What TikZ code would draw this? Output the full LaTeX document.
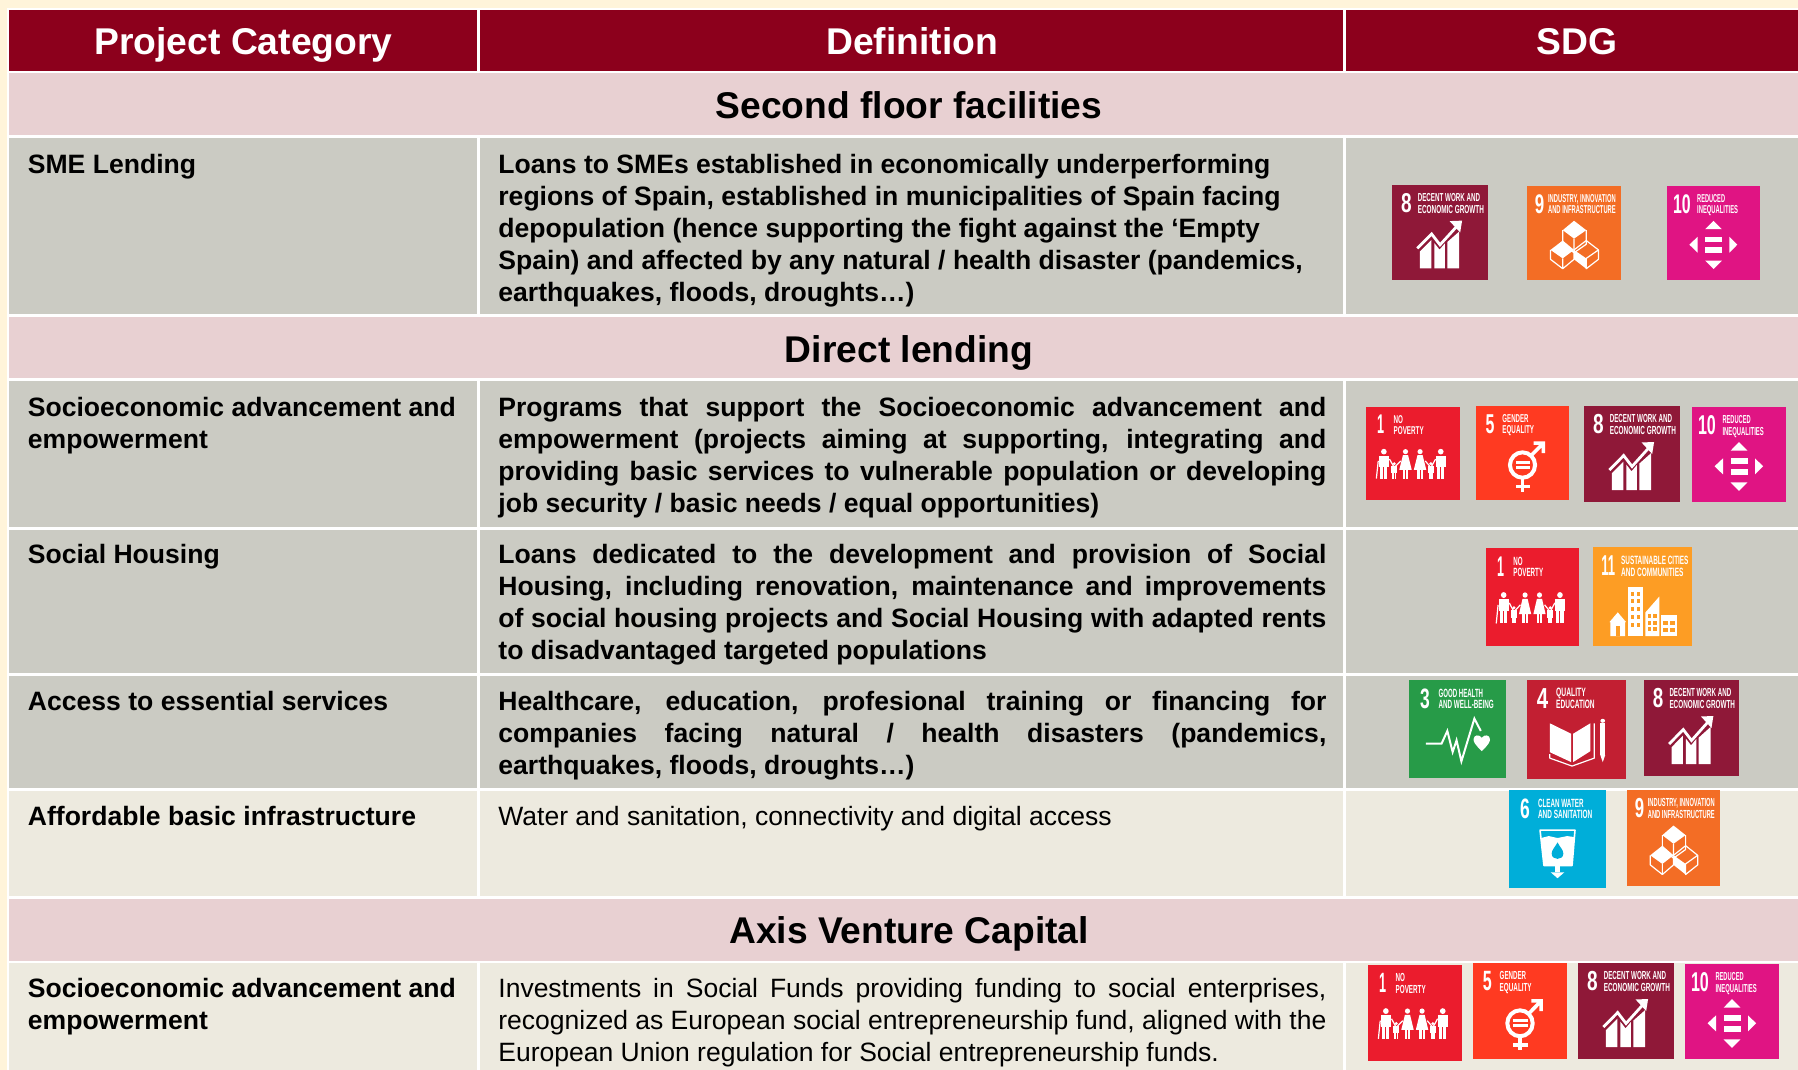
\documentclass[tikz,border=0pt]{standalone}
\usepackage{fontspec}
\usepackage{graphicx}
\setmainfont{Liberation Sans}
\setsansfont{Liberation Sans}
\definecolor{margincol}{HTML}{FFF4DA}
\definecolor{headcol}{HTML}{8C001C}
\definecolor{pinkcol}{HTML}{E8D0D2}
\definecolor{greycol}{HTML}{CBCBC3}
\definecolor{creamcol}{HTML}{EDEADF}
\definecolor{sdgA}{HTML}{EB1C2D}
\definecolor{sdgC}{HTML}{279B48}
\definecolor{sdgD}{HTML}{C21F32}
\definecolor{sdgE}{HTML}{FF3A21}
\definecolor{sdgF}{HTML}{00AED9}
\definecolor{sdgH}{HTML}{8F1838}
\definecolor{sdgI}{HTML}{F36D25}
\definecolor{sdgJ}{HTML}{E01483}
\definecolor{sdgK}{HTML}{FD9D24}
\newcounter{lb}
\newcommand\setspace{\spaceskip=.278em\relax}
\newcommand\jl[1]{\leavevmode\hbox to 414pt{\spaceskip=.278em plus 1fil minus .1em\relax #1}\\}
\tikzset{
  cellfill/.style={fill=#1,draw=none},
  hdtext/.style={inner sep=0,white,font=\fontsize{18.63}{20}\selectfont\bfseries,anchor=base},
  sectext/.style={inner sep=0,black,font=\fontsize{18.6}{20}\selectfont\bfseries,anchor=base},
  cattext/.style={inner sep=0,anchor=north west,align=left,text width=225pt,
     font=\fontsize{13.28}{16.05}\selectfont\bfseries,execute at begin node=\setspace\rule{0pt}{10pt}},
  defbold/.style={inner sep=0,anchor=north west,align=left,text width=414pt,
     font=\fontsize{13.28}{16.05}\selectfont\bfseries,execute at begin node=\setspace\rule{0pt}{10pt}},
  defreg/.style={inner sep=0,anchor=north west,align=left,text width=414pt,
     font=\fontsize{13.25}{16.05}\selectfont,execute at begin node=\setspace\rule{0pt}{10pt}},
  sdgtext/.style={inner sep=0,anchor=base west,white},
  gl/.style={draw=white,line width=1.4pt,line cap=butt,line join=miter},
  glt/.style={draw=white,line width=0.6pt,line join=round},
}
% icon-relative label: x, baseline y, width %, height %, text
\newcommand\sdglab[5]{%
  \pgfmathsetlengthmacro\sdglw{#3*\sdgiw}%
  \pgfmathsetlengthmacro\sdglh{#4*\sdgih}%
  \stepcounter{lb}%
  \node[sdgtext] (lb\arabic{lb}) at (#1,#2) {\resizebox{\sdglw}{\sdglh}{\bfseries #5}};}
\newcommand\sdgnum[3]{\sdglab{#1}{29}{#2}{20}{#3}}
\newcommand\sdgtwo[5]{\sdglab{#1}{17.5}{#2}{8.5}{#3}\sdglab{#1}{29.5}{#4}{8.5}{#5}}
% icon: x0,y0,x1,y1,glyph name
\newcommand\sdgicon[5]{%
  \pgfmathsetmacro\sdgiwn{(#3-#1)/200}%
  \pgfmathsetmacro\sdgihn{(#4-#2)/200}%
  \edef\sdgiw{\sdgiwn pt}\edef\sdgih{\sdgihn pt}%
  \begin{scope}[shift={(#1,#2)},x=\sdgiw,y=-\sdgih]
    \csname sdgg#5\endcsname
  \end{scope}}
\newcommand\sdgbox[1]{\fill[#1] (0,0) rectangle (100,100);}
% glyphs
\newcommand\growth{%
  \draw[gl] (26.4,66.7) -- (41.3,51.6) -- (50,63) -- (68,43);
  \fill[white] (60,38) -- (73,37.5) -- (71,50) -- cycle;
  \fill[white] (29,70) -- (41,58) -- (41,87.7) -- (29,87.7) -- cycle;
  \fill[white] (44,61) -- (49.5,68) -- (55,61.5) -- (55,87.7) -- (44,87.7) -- cycle;
  \fill[white] (57.6,60) -- (70,49) -- (70,87.7) -- (57.6,87.7) -- cycle;}
\newcommand\cubes{%
  \fill[white] (50,37) -- (63,47) -- (50,56) -- (38,47) -- cycle;
  \fill[white] (38,58) -- (50,68) -- (38,77) -- (25,68) -- cycle;
  \fill[white] (50,68) -- (63,77) -- (63,88) -- (50,78) -- cycle;
  \draw[glt] (38,47) -- (38,62) -- (50,71) -- (63,62) -- (63,47) (50,56) -- (50,71);
  \draw[glt] (25,68) -- (25,78) -- (38,88) -- (50,78) -- (50,68) (38,77) -- (38,88);
  \draw[glt] (50,68) -- (63,58) -- (76,68) -- (76,78) -- (63,88) -- (63,77) -- (76,68);}
\newcommand\reduced{%
  \fill[white] (41,46) -- (59,46) -- (50,37) -- cycle;
  \fill[white] (41,79.4) -- (59,79.4) -- (50,88.3) -- cycle;
  \fill[white] (33,54) -- (33,71) -- (24,62.4) -- cycle;
  \fill[white] (67,54) -- (67,71) -- (75.6,62.4) -- cycle;
  \fill[white] (41,54) rectangle (59.5,60);
  \fill[white] (41,65) rectangle (59.5,71.6);}
\newcommand\sdgman[4]{% x, top, bottom, half-width
  \fill[white] (#1,#2) circle[x radius=#4*0.55,y radius=#4*0.55];
  \pgfmathsetmacro\pa{#2+#4*0.8}\pgfmathsetmacro\pb{(#2+#3)/2+2}%
  \fill[white] (#1-#4,\pa) rectangle (#1+#4,\pb);
  \fill[white] (#1-#4*0.7,\pb) rectangle (#1-#4*0.1,#3);
  \fill[white] (#1+#4*0.1,\pb) rectangle (#1+#4*0.7,#3);}
\newcommand\sdgwoman[4]{%
  \fill[white] (#1,#2) circle[x radius=#4*0.5,y radius=#4*0.5];
  \pgfmathsetmacro\pa{#2+#4*0.7}\pgfmathsetmacro\pb{(#2+#3)/2+5}%
  \fill[white] (#1-#4*.5,\pa) -- (#1+#4*.5,\pa) -- (#1+#4*1.2,\pb) -- (#1-#4*1.2,\pb) -- cycle;
  \fill[white] (#1-#4*.55,\pb) rectangle (#1-#4*.1,#3);
  \fill[white] (#1+#4*.1,\pb) rectangle (#1+#4*.55,#3);}
\newcommand\family{%
  \sdgman{19}{48}{77}{5.5}
  \sdgwoman{42}{48}{77}{5.5}
  \sdgwoman{57.5}{48}{77}{5.5}
  \sdgman{79.5}{48}{77}{5.5}
  \sdgman{30}{61}{77}{3.2}
  \sdgman{69}{61}{77}{3.2}
  \draw[glt] (25,56) -- (30,65) -- (37,58) (63,58) -- (69,65) -- (74,56) (11,77) -- (13,58);}
\expandafter\newcommand\csname sdggeight\endcsname{\sdgbox{sdgH}\sdgnum{9}{11}{8}\sdgtwo{26.4}{65}{DECENT WORK AND}{69}{ECONOMIC GROWTH}\growth}
\expandafter\newcommand\csname sdggnine\endcsname{\sdgbox{sdgI}\sdgnum{8}{10}{9}\sdgtwo{22}{72}{INDUSTRY, INNOVATION}{72}{AND INFRASTRUCTURE}\cubes}
\expandafter\newcommand\csname sdggten\endcsname{\sdgbox{sdgJ}\sdgnum{6}{19}{10}\sdgtwo{32}{30}{REDUCED}{44}{INEQUALITIES}\reduced}
\expandafter\newcommand\csname sdggone\endcsname{\sdgbox{sdgA}\sdgnum{11.5}{7.5}{1}\sdgtwo{29}{10}{NO}{32}{POVERTY}\family}
\expandafter\newcommand\csname sdggfive\endcsname{\sdgbox{sdgE}\sdgnum{10}{9.5}{5}\sdgtwo{28}{28}{GENDER}{34}{EQUALITY}%
  \draw[white,line width=2pt] (50,62.8) circle[x radius=13.5,y radius=13.5];
  \fill[white] (43,58.5) rectangle (58,61.3);
  \fill[white] (43,64) rectangle (58,67);
  \draw[white,line width=1.8pt] (59,53) -- (72,40) (62,39.5) -- (72.5,39.5) -- (72.5,50);
  \draw[white,line width=1.8pt] (50,77) -- (50,91) (43,85.7) -- (58,85.7);}
\expandafter\newcommand\csname sdggeleven\endcsname{\sdgbox{sdgK}\sdgnum{8}{14}{11}\sdgtwo{28}{68}{SUSTAINABLE CITIES}{63}{AND COMMUNITIES}%
  \fill[white] (35,40) rectangle (50,89.6);
  \foreach \wy in {45,53,61,69,77} {\fill[sdgK] (38.5,\wy) rectangle (41.5,\wy+4); \fill[sdgK] (44,\wy) rectangle (47,\wy+4);}
  \fill[white] (25,66) -- (33.5,76) -- (32.5,76) -- (32.5,90) -- (17.5,90) -- (17.5,76) -- (16.5,76) -- cycle;
  \fill[sdgK] (23,80) rectangle (27,90);
  \fill[white] (67,50) -- (67,90) -- (53,90) -- (53,66) -- cycle;
  \foreach \wy in {68,74.5,81} {\fill[sdgK] (55.5,\wy) rectangle (59,\wy+4); \fill[sdgK] (61,\wy) rectangle (64.5,\wy+4);}
  \fill[white] (69,69) rectangle (84.5,90);
  \foreach \wy in {75,82} {\fill[sdgK] (71,\wy) rectangle (76,\wy+4); \fill[sdgK] (78,\wy) rectangle (83,\wy+4);}}
\expandafter\newcommand\csname sdggthree\endcsname{\sdgbox{sdgC}\sdgnum{11}{10}{3}\sdgtwo{30}{46}{GOOD HEALTH}{57}{AND WELL-BEING}%
  \draw[white,line width=1pt,line join=miter] (17.5,65) -- (33.5,65) -- (39.5,52) -- (45,73.5) -- (49,61.5) -- (54,83) -- (67.4,39.4) -- (74,52);
  \fill[white] (75,72.5) .. controls (68,66) and (66.5,63) .. (66.5,60.5) .. controls (66.5,56) and (72.5,55) .. (75,59) .. controls (77.5,55) and (83.5,56) .. (83.5,60.5) .. controls (83.5,63) and (82,66) .. (75,72.5) -- cycle;}
\expandafter\newcommand\csname sdggfour\endcsname{\sdgbox{sdgD}\sdgnum{9.5}{11.5}{4}\sdgtwo{29}{30}{QUALITY}{39}{EDUCATION}%
  \fill[white] (23,44) -- (44.6,54.5) -- (44.6,83) -- (23,73) -- cycle;
  \fill[white] (46.6,54.5) -- (64,44) -- (64,72) -- (46.6,83) -- cycle;
  \draw[glt] (23,75) -- (23,79) -- (45.5,87) -- (68,79) -- (68,44);
  \fill[white] (74,44) rectangle (79,76) ;
  \fill[white] (74,76) -- (79,76) -- (76.5,83) -- cycle;
  \fill[white] (76.5,41.5) circle[x radius=2.4,y radius=2];}
\expandafter\newcommand\csname sdggsix\endcsname{\sdgbox{sdgF}\sdgnum{11}{10}{6}\sdgtwo{29.5}{47}{CLEAN WATER}{56}{AND SANITATION}%
  \draw[glt,line width=0.8pt] (32,41) -- (68,41) -- (65,77) -- (36,77) -- cycle;
  \fill[white] (33,49) -- (41,47) -- (50,49) -- (60,47) -- (67,48) -- (65,77) -- (36,77) -- cycle;
  \fill[sdgF] (50,53.5) .. controls (47,59) and (44,61) .. (44,65) .. controls (44,72) and (56,72) .. (56,65) .. controls (56,61) and (53,59) .. (50,53.5) -- cycle;
  \fill[white] (47,77) rectangle (53,84);
  \fill[white] (43,84) -- (57,84) -- (50,90) -- cycle;}
\begin{document}
\begin{tikzpicture}[x=0.5pt,y=-0.5pt]
\useasboundingbox (0,0) rectangle (1798,1070);
\fill[margincol] (0,0) rectangle (1798,1070);
\fill[white] (7,8) rectangle (1798,1070);
% header
\fill[cellfill=headcol] (9,10) rectangle (477,71);
\fill[cellfill=headcol] (480,10) rectangle (1343,71);
\fill[cellfill=headcol] (1346,10) rectangle (1798,71);
\node[hdtext] (hA) at (243.5,55) {Project Category};
\node[hdtext] (hB) at (912,55) {Definition};
\node[hdtext] (hC) at (1577,55) {SDG};
% section bands
\fill[cellfill=pinkcol] (9,73.5) rectangle (1798,135);
\fill[cellfill=pinkcol] (9,317) rectangle (1798,378);
\fill[cellfill=pinkcol] (9,898.5) rectangle (1798,960.5);
\node[sectext] (sA) at (909,119) {Second floor facilities};
\node[sectext] (sB) at (909,362) {Direct lending};
\node[sectext] (sC) at (909,943.5) {Axis Venture Capital};
% rows: y0 y1 colour
\foreach \ya/\yb/\c in {138/314/greycol,381/527/greycol,529.5/673/greycol,676/788/greycol,791/896/creamcol,963/1070/creamcol}{
  \fill[cellfill=\c] (9,\ya) rectangle (477,\yb);
  \fill[cellfill=\c] (480,\ya) rectangle (1343,\yb);
  \fill[cellfill=\c] (1346,\ya) rectangle (1798,\yb);
}
% first column
\node[cattext] (c1) at (27.5,153) {SME Lending};
\node[cattext] (c2) at (27.5,396) {Socioeconomic advancement and\\empowerment};
\node[cattext] (c3) at (27.5,543) {Social Housing};
\node[cattext] (c4) at (27.5,690) {Access to essential services};
\node[cattext] (c5) at (27.5,805) {Affordable basic infrastructure};
\node[cattext] (c6) at (27.5,977) {Socioeconomic advancement and\\empowerment};
% second column
\node[defbold] (d1) at (498,153) {Loans to SMEs established in economically underperforming\\
regions of Spain, established in municipalities of Spain facing\\
depopulation (hence supporting the fight against the ‘Empty\\
Spain) and affected by any natural / health disaster (pandemics,\\
earthquakes, floods, droughts…)};
\node[defbold] (d2) at (498,396) {\jl{Programs that support the Socioeconomic advancement and}
\jl{empowerment (projects aiming at supporting, integrating and}
\jl{providing basic services to vulnerable population or developing}
job security / basic needs / equal opportunities)};
\node[defbold] (d3) at (498,543) {\jl{Loans dedicated to the development and provision of Social}
\jl{Housing, including renovation, maintenance and improvements}
\jl{of social housing projects and Social Housing with adapted rents}
to disadvantaged targeted populations};
\node[defbold] (d4) at (498,690) {\jl{Healthcare, education, profesional training or financing for}
\jl{companies facing natural / health disasters (pandemics,}
earthquakes, floods, droughts…)};
\node[defreg] (d5) at (498,805) {Water and sanitation, connectivity and digital access};
\node[defreg] (d6) at (498,977) {\jl{Investments in Social Funds providing funding to social enterprises,}
\jl{recognized as European social entrepreneurship fund, aligned with the}
European Union regulation for Social entrepreneurship funds.};
% icons
\sdgicon{1392}{185}{1488}{280}{eight}
\sdgicon{1527}{186}{1621}{280}{nine}
\sdgicon{1667}{186}{1760}{280}{ten}
\sdgicon{1366}{407}{1460}{500}{one}
\sdgicon{1476}{406}{1569}{500}{five}
\sdgicon{1584}{406}{1680}{502}{eight}
\sdgicon{1692}{407}{1786}{502}{ten}
\sdgicon{1486}{548}{1579}{646}{one}
\sdgicon{1593}{547}{1692}{646}{eleven}
\sdgicon{1409}{680}{1506}{778}{three}
\sdgicon{1527}{679.5}{1626}{779}{four}
\sdgicon{1644}{680}{1739}{776}{eight}
\sdgicon{1509}{790}{1606}{888}{six}
\sdgicon{1627}{790}{1720}{886}{nine}
\sdgicon{1368}{965}{1462}{1061}{one}
\sdgicon{1473}{963}{1567}{1059}{five}
\sdgicon{1578}{963}{1674}{1059}{eight}
\sdgicon{1685}{964}{1779}{1059}{ten}
\end{tikzpicture}
\end{document}
